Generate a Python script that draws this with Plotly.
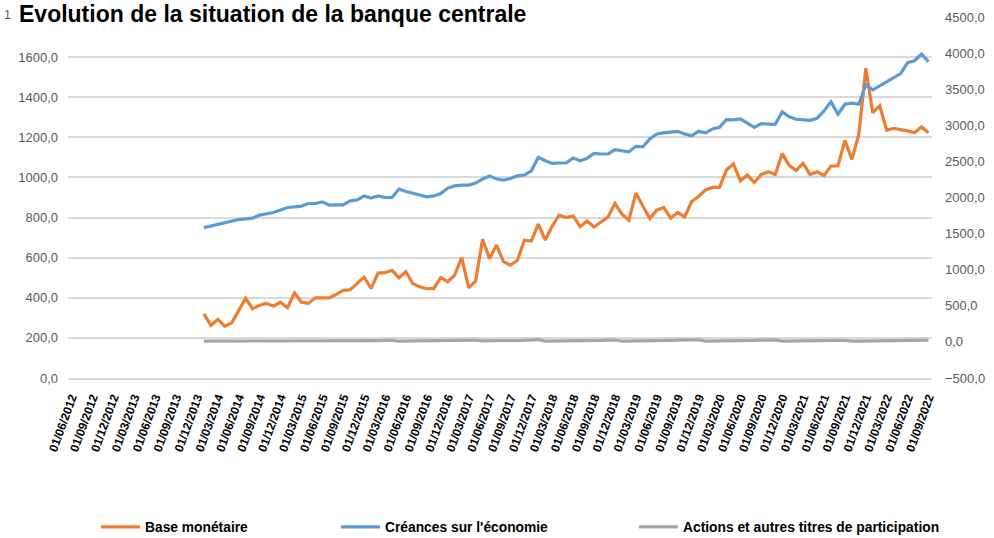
import plotly.graph_objects as go

# Monthly category axis: 01/06/2012 .. 01/09/2022
months = []
for year in range(2012, 2023):
    for m in range(1, 13):
        if (year, m) < (2012, 6) or (year, m) > (2022, 9):
            continue
        months.append(f"01/{m:02d}/{year}")

# Series start in January 2014
data_months = months[19:]

base_monetaire = [
    320, 263, 292, 258, 275, 333, 397, 345, 363, 372,
    358, 378, 350, 425, 378, 372, 400, 400, 400, 417,
    437, 440, 470, 503, 447, 523, 525, 537, 500, 530,
    470, 455, 445, 447, 500, 480, 513, 600, 450, 483,
    692, 595, 663, 580, 563, 587, 687, 683, 767, 688,
    758, 812, 800, 808, 755, 783, 753, 778, 803, 870,
    817, 787, 922, 858, 795, 837, 850, 797, 825, 803,
    880, 905, 938, 950, 950, 1037, 1067, 983, 1012, 975,
    1015, 1028, 1015, 1120, 1060, 1035, 1070, 1015, 1028, 1010,
    1057, 1057, 1185, 1090, 1215, 1545, 1323, 1357, 1235, 1245,
    1240, 1232, 1223, 1252, 1223,
]

creances_economie = [
    750, 758, 770, 777, 783, 790, 793, 797, 812, 820,
    825, 838, 850, 853, 857, 870, 870, 878, 862, 863,
    863, 883, 888, 908, 897, 908, 900, 900, 942, 930,
    920, 912, 903, 908, 920, 947, 958, 962, 962, 972,
    992, 1007, 992, 987, 995, 1008, 1012, 1033, 1100, 1083,
    1070, 1072, 1073, 1097, 1083, 1095, 1120, 1117, 1117, 1138,
    1133, 1128, 1155, 1153, 1192, 1217, 1222, 1225, 1230, 1217,
    1208, 1230, 1222, 1242, 1250, 1288, 1287, 1292, 1272, 1250,
    1268, 1265, 1265, 1327, 1302, 1290, 1287, 1285, 1295, 1332,
    1378, 1315, 1365, 1370, 1365, 1462, 1437, 1457, 1477, 1495,
    1518, 1573, 1582, 1615, 1577,
]

actions_titres = [
    10, 10, 12, 12, 12, 12, 14, 14, 16, 14,
    8, 10, 10, 12, 12, 14, 14, 16, 10, 8,
    10, 12, 14, 16, 16, 18, 20, 22, 10, 10,
    12, 14, 16, 16, 18, 18, 20, 22, 24, 26,
    14, 14, 16, 18, 18, 20, 22, 26, 30, 12,
    12, 14, 16, 16, 18, 18, 20, 22, 24, 26,
    12, 12, 14, 16, 18, 18, 20, 22, 24, 26,
    28, 30, 12, 12, 14, 16, 18, 18, 20, 22,
    24, 26, 28, 10, 10, 12, 14, 14, 16, 16,
    18, 20, 22, 10, 10, 12, 12, 14, 14, 16,
    16, 18, 20, 22, 24,
]

left_ticks = [0, 200, 400, 600, 800, 1000, 1200, 1400, 1600]
right_ticks = [-500, 0, 500, 1000, 1500, 2000, 2500, 3000, 3500, 4000, 4500]
x_ticks = months[::3]

ORANGE = "#ED7D31"
BLUE = "#5B9BD5"
GREY = "#A5A5A5"
FONT = "Liberation Sans"

fig = go.Figure()
fig.add_trace(go.Scatter(
    x=data_months, y=base_monetaire, name="Base monétaire", mode="lines",
    line=dict(color=ORANGE, width=3.2), legend="legend",
))
fig.add_trace(go.Scatter(
    x=data_months, y=creances_economie, name="Créances sur l'économie", mode="lines",
    line=dict(color=BLUE, width=3.2), legend="legend2",
))
fig.add_trace(go.Scatter(
    x=data_months, y=actions_titres, name="Actions et autres titres de participation",
    mode="lines", line=dict(color=GREY, width=3.2), yaxis="y2", legend="legend3",
))

legend_common = dict(
    orientation="h", yanchor="middle", xanchor="left",
    yref="container", y=1 - 527 / 538, xref="container",
    font=dict(family=FONT, size=13.8, color="#000000", weight="bold"),
    bgcolor="rgba(0,0,0,0)", itemwidth=39, traceorder="normal",
)

fig.update_layout(
    width=994, height=538,
    margin=dict(l=68, r=62, t=17, b=160, autoexpand=False),
    paper_bgcolor="white", plot_bgcolor="white",
    separators=", ",
    showlegend=True,
    legend=dict(x=96 / 994, **legend_common),
    legend2=dict(x=336 / 994, **legend_common),
    legend3=dict(x=634 / 994, **legend_common),
    xaxis=dict(
        type="category", categoryorder="array", categoryarray=months,
        range=[-0.5, len(months) - 0.5],
        tickmode="array", tickvals=x_ticks, ticktext=x_ticks,
        tickangle=-70, showgrid=False,
        tickfont=dict(family=FONT, size=12, color="#000000", weight="bold"),
        showline=True, linecolor="#D9D9D9", linewidth=1.5,
        ticks="", zeroline=False, ticklabelstandoff=6,
    ),
    yaxis=dict(
        range=[0, 1800], tickmode="array", tickvals=left_ticks,
        tickformat=".1f", showgrid=True, gridcolor="#D9D9D9", gridwidth=1.5,
        zeroline=False, showline=False, ticks="",
        tickfont=dict(family=FONT, size=13, color="#595959"),
        ticklabelstandoff=9,
    ),
    yaxis2=dict(
        range=[-500, 4500], tickmode="array", tickvals=right_ticks,
        tickformat=".1f", overlaying="y", side="right", showgrid=False,
        zeroline=False, showline=False, ticks="",
        tickfont=dict(family=FONT, size=13, color="#595959"),
        ticklabelstandoff=12,
    ),
    annotations=[
        dict(
            text="Evolution de la situation de la banque centrale",
            xref="paper", yref="paper",
            x=(17 - 68) / 864, y=(378 - 14) / 361,
            xanchor="left", yanchor="middle", showarrow=False,
            font=dict(family=FONT, size=23, color="#000000", weight="bold"),
        ),
        dict(
            text="1", xref="paper", yref="paper",
            x=(13 - 68) / 864, y=(378 - 15) / 361,
            xanchor="right", yanchor="middle", showarrow=False,
            font=dict(family=FONT, size=12.5, color="#595959"),
        ),
    ],
)

fig.write_html("out.html")
